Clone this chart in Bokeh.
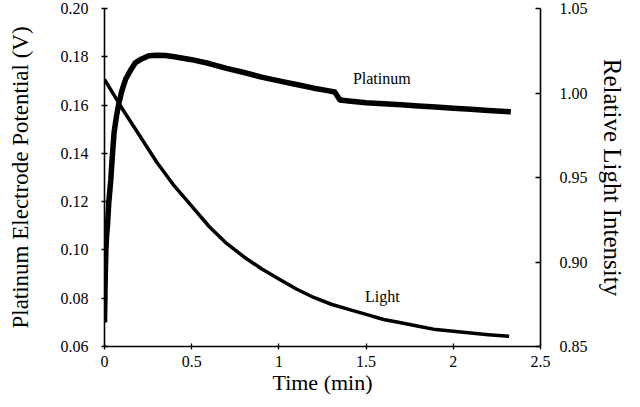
from bokeh.plotting import figure
from bokeh.models import Range1d, LinearAxis, FixedTicker, Label
from bokeh.embed import file_html
from bokeh.resources import INLINE

# ---- data ----
time_pt = [0.000, 0.004, 0.008, 0.012, 0.017, 0.025, 0.036, 0.045, 0.055, 0.070,
           0.083, 0.100, 0.121, 0.150, 0.178, 0.210, 0.254, 0.300, 0.350, 0.400,
           0.500, 0.600, 0.700, 0.800, 0.900, 1.000, 1.100, 1.200, 1.280, 1.320,
           1.350, 1.400, 1.500, 1.600, 1.700, 1.800, 1.900, 2.000, 2.100, 2.200, 2.330]
pt_volts = [0.0700, 0.0880, 0.1000, 0.1060, 0.1100, 0.1200, 0.1290, 0.1390, 0.1487, 0.1560,
            0.1610, 0.1660, 0.1707, 0.1745, 0.1776, 0.1790, 0.1804, 0.1806, 0.1805, 0.1800,
            0.1788, 0.1772, 0.1752, 0.1735, 0.1716, 0.1700, 0.1685, 0.1670, 0.1660, 0.1654,
            0.1621, 0.1617, 0.1610, 0.1605, 0.1601, 0.1596, 0.1592, 0.1587, 0.1583, 0.1578, 0.1572]

time_light = [0.0, 0.1, 0.2, 0.3, 0.4, 0.5, 0.6, 0.7, 0.8, 0.9, 1.0, 1.1, 1.2,
              1.3, 1.4, 1.5, 1.6, 1.7, 1.8, 1.9, 2.0, 2.1, 2.2, 2.32]
light_rel = [1.008, 0.991, 0.975, 0.959, 0.945, 0.933, 0.921, 0.911, 0.903, 0.896,
             0.890, 0.884, 0.879, 0.875, 0.872, 0.869, 0.866, 0.864, 0.862, 0.860,
             0.859, 0.858, 0.857, 0.856]

x_ticks = [0, 0.5, 1, 1.5, 2, 2.5]
x_tick_labels = ["0", "0.5", "1", "1.5", "2", "2.5"]
y_ticks = [0.06, 0.08, 0.10, 0.12, 0.14, 0.16, 0.18, 0.20]
y_tick_labels = ["0.06", "0.08", "0.10", "0.12", "0.14", "0.16", "0.18", "0.20"]
y2_ticks = [0.85, 0.90, 0.95, 1.00, 1.05]
y2_tick_labels = ["0.85", "0.90", "0.95", "1.00", "1.05"]

FONT = "Liberation Serif"

p = figure(width=628, height=399, x_range=Range1d(0, 2.5), y_range=Range1d(0.06, 0.20),
           output_backend="svg", toolbar_location=None,
           min_border_left=104, min_border_right=84, min_border_top=8, min_border_bottom=53)
p.extra_y_ranges = {"light": Range1d(0.85, 1.05)}
p.outline_line_color = None
p.xgrid.visible = False
p.ygrid.visible = False
p.background_fill_color = "white"
p.border_fill_color = "white"

right_axis = LinearAxis(y_range_name="light")
p.add_layout(right_axis, "right")

xa = p.xaxis[0]
ya = p.yaxis[0]

for ax in (xa, ya, right_axis):
    ax.axis_line_color = "black"
    ax.axis_line_width = 1.6
    ax.major_tick_line_color = "black"
    ax.major_tick_line_width = 1.3
    ax.minor_tick_line_color = None
    ax.major_label_text_font = FONT
    ax.major_label_text_font_size = "16px"
    ax.major_label_text_color = "black"
    ax.axis_label_text_font = FONT
    ax.axis_label_text_font_style = "normal"
    ax.axis_label_text_color = "black"

xa.ticker = FixedTicker(ticks=x_ticks)
xa.major_label_overrides = dict(zip(x_ticks, x_tick_labels))
xa.major_tick_in = 3
xa.major_tick_out = 3
xa.major_label_standoff = 6
xa.axis_label = "Time (min)"
xa.axis_label_text_font_size = "22px"
xa.axis_label_standoff = 0

ya.ticker = FixedTicker(ticks=y_ticks)
ya.major_label_overrides = dict(zip(y_ticks, y_tick_labels))
ya.major_tick_in = 3
ya.major_tick_out = 3
ya.major_label_standoff = 13
ya.axis_label = "Platinum Electrode Potential (V)"
ya.axis_label_text_font_size = "23px"
ya.axis_label_standoff = 25

right_axis.ticker = FixedTicker(ticks=y2_ticks)
right_axis.major_label_overrides = dict(zip(y2_ticks, y2_tick_labels))
right_axis.major_tick_in = 5
right_axis.major_tick_out = 0
right_axis.major_label_standoff = 19
right_axis.axis_label = "Relative Light Intensity"
right_axis.axis_label_text_font_size = "25px"
right_axis.axis_label_standoff = 8

p.line(time_pt, pt_volts, line_color="black", line_width=5.5, line_join="round")
p.line(time_light, light_rel, line_color="black", line_width=3.5, line_join="round",
       y_range_name="light")

p.add_layout(Label(x=1.59, y=0.171, text="Platinum", text_align="center", text_baseline="middle",
                   text_font=FONT, text_font_size="16px", text_color="black"))
p.add_layout(Label(x=1.494, y=0.8796, text="Light", text_align="left", text_baseline="middle",
                   text_font=FONT, text_font_size="16px", text_color="black", y_range_name="light"))

open("out.html", "w").write(file_html(p, INLINE))
